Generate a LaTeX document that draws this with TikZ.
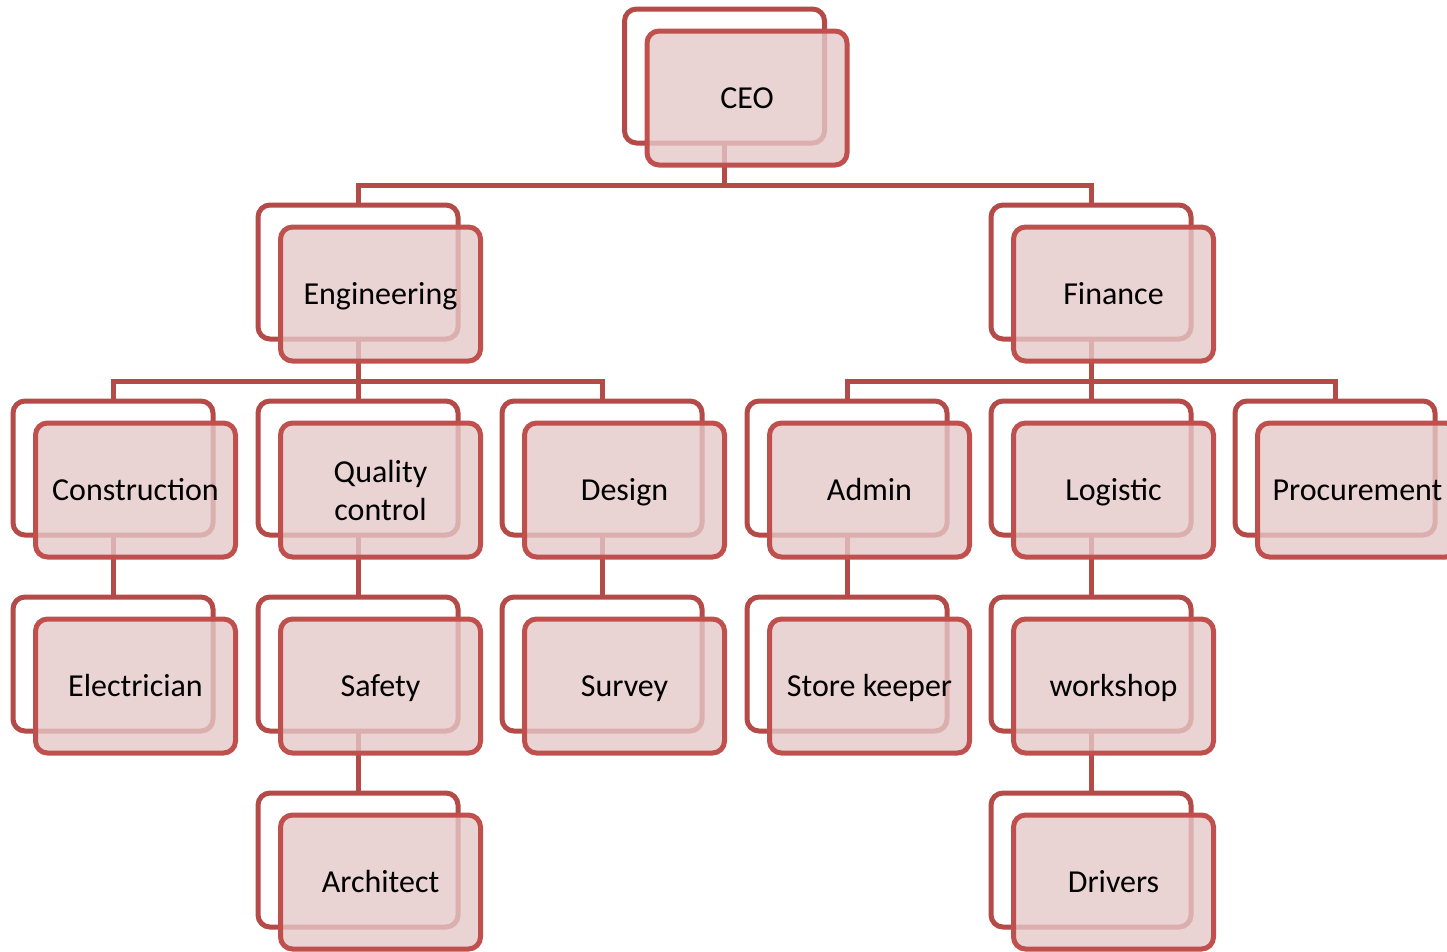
\documentclass[tikz,border=0pt]{standalone}
\usepackage{fontspec}
\setmainfont{Carlito}
\usetikzlibrary{calc}
\definecolor{backline}{RGB}{181,75,72}
\definecolor{frontline}{RGB}{192,80,77}
\definecolor{frontfill}{RGB}{229,200,200}
\begin{document}
\begin{tikzpicture}[x=1pt,y=-1pt,
  backbox/.style={draw=backline,fill=white,line width=5pt,rounded corners=12pt,
    minimum width=200pt,minimum height=134pt,inner sep=0pt,outer sep=0pt},
  frontbox/.style={draw=frontline,fill=frontfill,fill opacity=0.8,text opacity=1,
    line width=5pt,rounded corners=12pt,minimum width=200pt,minimum height=134pt,
    inner sep=0pt,outer sep=0pt,align=center,font=\fontsize{32}{38}\selectfont},
  oneline/.style={text height=26pt,text depth=6pt},
  conn/.style={draw=backline,line width=5pt}]
\useasboundingbox (0,0) rectangle (1447,951);
% back boxes
\foreach \n/\x/\y in {ceo/724.5/76, eng/358/272, fin/1091/272,
  con/113/468, qc/358/468, des/602/468, adm/847/468, log/1091/468, pro/1335/468,
  ele/113/664, saf/358/664, sur/602/664, sto/847/664, wor/1091/664,
  arc/358/860, dri/1091/860}
  \node[backbox] (\n-back) at (\x,\y) {};
% connectors
\foreach \p/\c in {ceo/eng, ceo/fin, eng/con, eng/qc, eng/des, fin/adm, fin/log, fin/pro}
  \draw[conn] (\p-back.south) |- ($(\c-back.north)+(0,-20)$) -- (\c-back.north);
\foreach \p/\c in {con/ele, qc/saf, saf/arc, des/sur, adm/sto, log/wor, wor/dri}
  \draw[conn] (\p-back.south) -- (\c-back.north);
% front boxes
\foreach \n/\t in {ceo/CEO, eng/Engineering, fin/Finance,
  con/Construction, des/Design, adm/Admin, log/Logistic, pro/Procurement,
  ele/Electrician, saf/Safety, sur/Survey, sto/Store keeper, wor/workshop,
  arc/Architect, dri/Drivers}
  \node[frontbox,oneline] (\n) at ($(\n-back.center)+(22.5,22)$) {\t};
\node[frontbox] (qc) at ($(qc-back.center)+(22.5,22)$) {Quality\\control};
\end{tikzpicture}
\end{document}
